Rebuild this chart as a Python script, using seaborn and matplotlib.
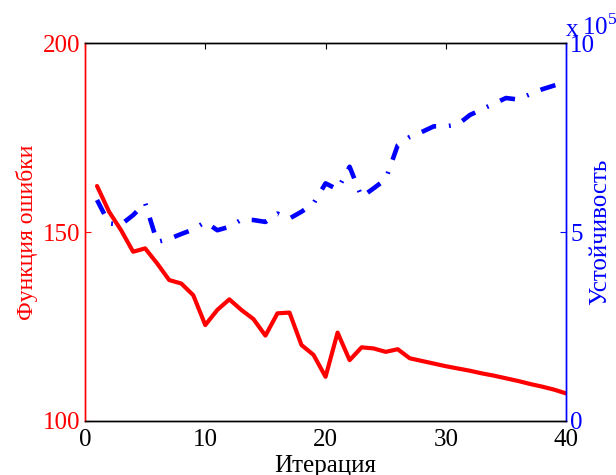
import numpy as np
import pandas as pd
import matplotlib
matplotlib.use('Agg')
import matplotlib.pyplot as plt
import seaborn as sns

# данные
iterations = list(range(1, 41))
error_values = [162.2, 155.4, 150.5, 144.8, 145.7, 141.7, 137.3, 136.4, 133.3, 125.4,
                129.4, 132.2, 129.4, 127.0, 122.6, 128.5, 128.7, 120.1, 117.5, 111.7,
                123.4, 116.1, 119.5, 119.2, 118.3, 119.0, 116.6, 115.9, 115.2, 114.5,
                113.9, 113.3, 112.6, 112.0, 111.3, 110.6, 109.8, 109.1, 108.3, 107.3]
stability_values = [5.85, 5.23, 5.20, 5.45, 5.77, 4.74, 4.82, 4.95, 5.07, 5.27,
                    5.05, 5.14, 5.33, 5.32, 5.27, 5.49, 5.36, 5.54, 5.76, 6.29,
                    6.13, 6.73, 5.93, 6.16, 6.40, 7.30, 7.52, 7.65, 7.80, 7.80,
                    7.85, 8.10, 8.25, 8.40, 8.55, 8.51, 8.65, 8.78, 8.88, 8.98]
x_ticks = [0, 10, 20, 30, 40]
left_ticks = [100, 150, 200]
right_ticks = [0, 5, 10]

df = pd.DataFrame({'iter': iterations, 'err': error_values, 'stab': stability_values})

sns.set_theme(style='white')
plt.rcParams['font.family'] = ['Liberation Serif', 'DejaVu Serif']
plt.rcParams['mathtext.fontset'] = 'custom'
plt.rcParams['mathtext.rm'] = 'Liberation Serif'
plt.rcParams['xtick.direction'] = 'in'
plt.rcParams['ytick.direction'] = 'in'

fs = 18
fig, ax = plt.subplots(figsize=(6.16, 4.75), dpi=100)
fig.subplots_adjust(left=0.138, right=0.919, bottom=0.1137, top=0.909)

sns.lineplot(data=df, x='iter', y='err', ax=ax, color='#ff0000', linewidth=3)
ax.set_xlim(0, 40)
ax.set_ylim(100, 200)
ax.set_xticks(x_ticks)
ax.set_yticks(left_ticks)
ax.tick_params(axis='x', colors='black', labelsize=fs, length=4, width=0.8, top=True, pad=6)
ax.tick_params(axis='y', colors='#ff0000', labelsize=fs, length=4, width=0.8, pad=3)
ax.set_xlabel('Итерация', fontsize=fs, color='black', labelpad=3)
ax.set_ylabel('Функция ошибки', fontsize=17, color='#ff0000', labelpad=4)

ax2 = ax.twinx()
sns.lineplot(data=df, x='iter', y='stab', ax=ax2, color='#0000ff', linewidth=3.3,
             linestyle=(0, (3.4, 2.8, 0.4, 2.8)))
ax2.set_ylim(0, 10)
ax2.set_yticks(right_ticks)
ax2.tick_params(axis='y', colors='#0000ff', labelsize=fs, length=4, width=0.8, pad=3)
ax2.set_ylabel('Устойчивость', fontsize=fs, color='#0000ff', labelpad=-4)

for a in (ax, ax2):
    for s in a.spines.values():
        s.set_linewidth(1.0)
        s.set_color('black')
    a.spines['left'].set_color('#ff0000')
    a.spines['right'].set_color('#0000ff')

# множитель шкалы справа
fig.text(0.919, 0.924, 'x', fontsize=fs, color='#0000ff', ha='left', va='baseline')
fig.text(0.945, 0.927, '10$^{5}$', fontsize=fs, color='#0000ff', ha='left', va='baseline')

plt.savefig('out.png', dpi=100)
